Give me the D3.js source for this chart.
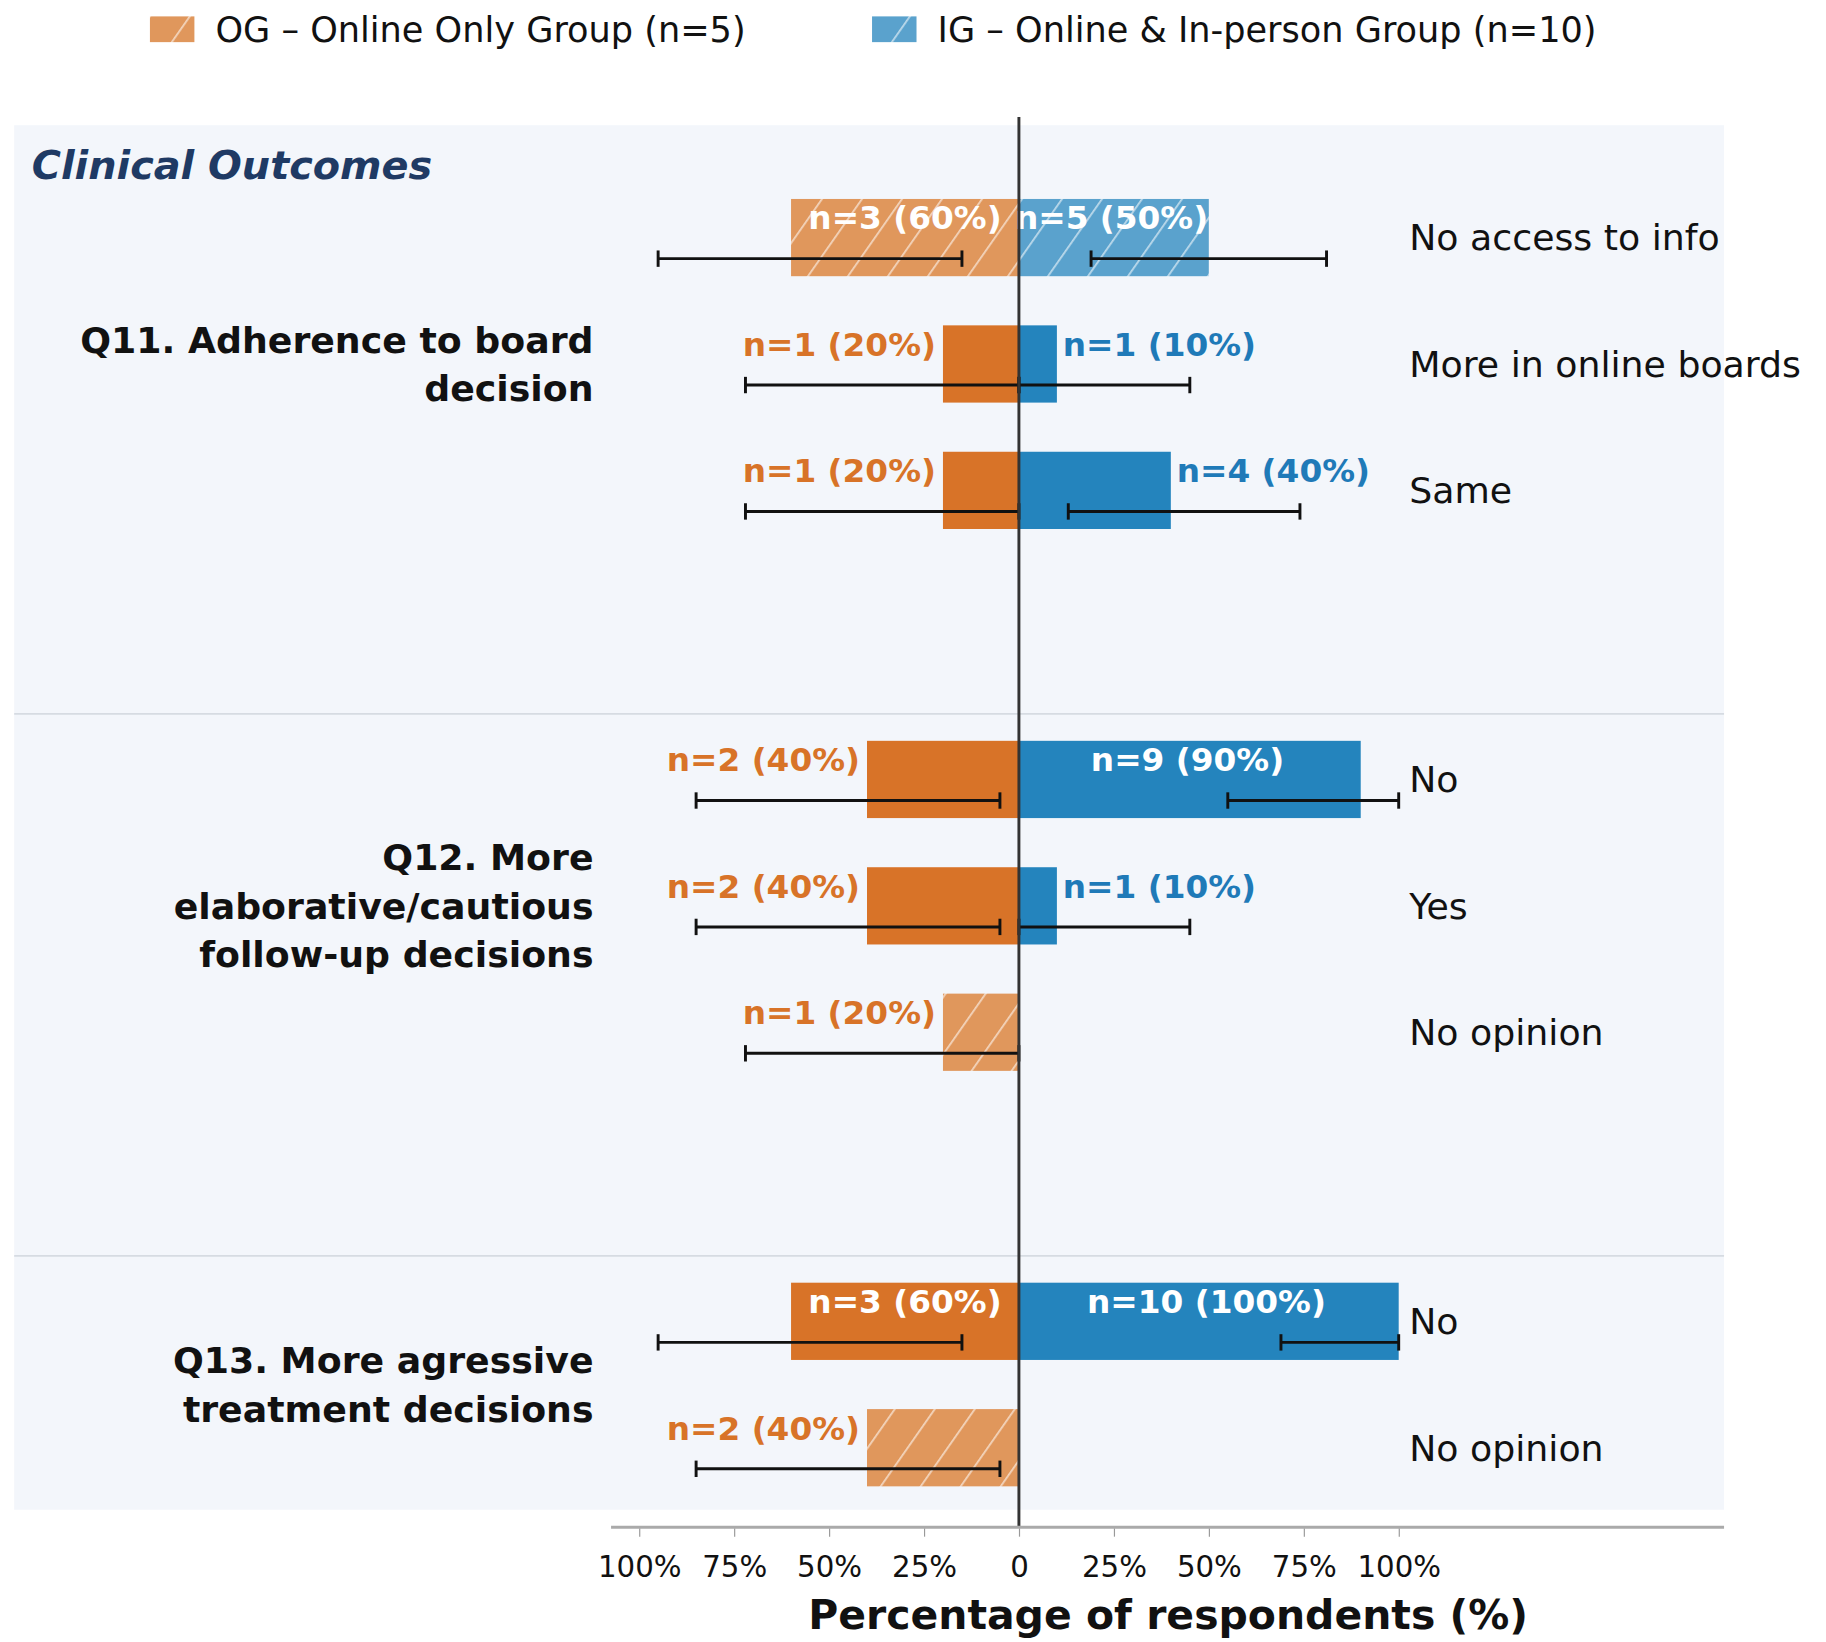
<!DOCTYPE html>
<html><head><meta charset="utf-8">
<script src="https://cdn.jsdelivr.net/npm/d3@7"></script>
<style>body{margin:0;background:#fff}text{font-family:"DejaVu Sans",sans-serif}</style>
</head><body><svg id="chart"></svg>
<script>
// data
var questions = ["Q11. Adherence to board\ndecision", "Q12. More\nelaborative/cautious\nfollow-up decisions", "Q13. More agressive\ntreatment decisions"];
var rowQuestion = [0, 0, 0, 1, 1, 1, 2, 2];
var answers = ["No access to info", "More in online boards", "Same", "No", "Yes", "No opinion", "No", "No opinion"];
var ogN = [3, 1, 1, 2, 2, 1, 3, 2];
var ogPct = [60, 20, 20, 40, 40, 20, 60, 40];
var ogLo = [15, 0, 0, 5, 5, 0, 15, 5];
var ogHi = [95, 72, 72, 85, 85, 72, 95, 85];
var igN = [5, 1, 4, 9, 1, null, 10, null];
var igPct = [50, 10, 40, 90, 10, null, 100, null];
var igLo = [19, 0, 13, 55, 0, null, 69, null];
var igHi = [81, 45, 74, 100, 45, null, 100, null];
var ogHatch = [true, false, false, false, false, true, false, true];
var igHatch = [true, false, false, false, false, false, false, false];
var ticks = [-100, -75, -50, -25, 0, 25, 50, 75, 100];
var rowY = [203, 311, 419, 666, 774, 882, 1129, 1237];

var W = 1560, H = 1403;
var svg = d3.select("#chart").attr("width", 1826).attr("height", 1642).attr("viewBox", "0 0 " + W + " " + H);
var x = d3.scaleLinear().domain([-100, 100]).range([546, 1195]);
var C = {og: "#d87328", ogL: "#e0975c", ig: "#2484bd", igL: "#5aa2cd"};

var defs = svg.append("defs");
[["hOG", C.ogL], ["hIG", C.igL]].forEach(function (p) {
  var pat = defs.append("pattern").attr("id", p[0]).attr("patternUnits", "userSpaceOnUse")
    .attr("width", 28).attr("height", 28).attr("patternTransform", "rotate(35)");
  pat.append("rect").attr("width", 28).attr("height", 28).attr("fill", p[1]);
  pat.append("line").attr("x1", 0).attr("x2", 0).attr("y1", 0).attr("y2", 28)
    .attr("stroke", "#fff").attr("stroke-opacity", 0.6).attr("stroke-width", 3);
});

// panel
svg.append("rect").attr("x", 12).attr("y", 107).attr("width", 1461).attr("height", 1183).attr("fill", "#f3f6fb");
[610, 1073].forEach(function (y) {
  svg.append("line").attr("x1", 12).attr("x2", 1473).attr("y1", y).attr("y2", y).attr("stroke", "#d6dbe2").attr("stroke-width", 1.5);
});
svg.append("text").attr("x", 27).attr("y", 153).attr("font-size", 34).attr("font-weight", "bold")
  .attr("font-style", "italic").attr("fill", "#1f3a64").text("Clinical Outcomes");

// legend
[[128, 184, "hOG", "OG – Online Only Group (n=5)"], [745, 801, "hIG", "IG – Online & In-person Group (n=10)"]].forEach(function (l) {
  svg.append("rect").attr("x", l[0]).attr("y", 14).attr("width", 38).attr("height", 22).attr("fill", "url(#" + l[2] + ")");
  svg.append("text").attr("x", l[1]).attr("y", 36).attr("font-size", 30).attr("fill", "#111").text(l[3]);
});

var bh = 66;
var g = svg.append("g");
rowY.forEach(function (cy, i) {
  // OG bar (left)
  var x0 = x(-ogPct[i]);
  g.append("rect").attr("x", x0).attr("y", cy - 33).attr("width", x(0) - x0).attr("height", bh)
    .attr("fill", ogHatch[i] ? "url(#hOG)" : C.og);
  if (igPct[i] != null) {
    g.append("rect").attr("x", x(0)).attr("y", cy - 33).attr("width", x(igPct[i]) - x(0)).attr("height", bh)
      .attr("fill", igHatch[i] ? "url(#hIG)" : C.ig);
  }
});

// error bars
function errbar(lo, hi, cy) {
  var ey = cy + 18;
  g.append("line").attr("x1", lo).attr("x2", hi).attr("y1", ey).attr("y2", ey).attr("stroke", "#111").attr("stroke-width", 2.5);
  [lo, hi].forEach(function (v) {
    g.append("line").attr("x1", v).attr("x2", v).attr("y1", ey - 7).attr("y2", ey + 7).attr("stroke", "#111").attr("stroke-width", 2.5);
  });
}
rowY.forEach(function (cy, i) {
  errbar(x(-ogHi[i]), x(-ogLo[i]), cy);
  if (igPct[i] != null) errbar(x(igLo[i]), x(igHi[i]), cy);
});

// center line
svg.append("line").attr("x1", x(0)).attr("x2", x(0)).attr("y1", 100).attr("y2", 1305).attr("stroke", "#333").attr("stroke-width", 2.5);

// value labels
rowY.forEach(function (cy, i) {
  var ly = cy - 7;
  var t = "n=" + ogN[i] + " (" + ogPct[i] + "%)";
  if (ogPct[i] >= 50) {
    g.append("text").attr("x", (x(-ogPct[i]) + x(0)) / 2).attr("y", ly).attr("text-anchor", "middle")
      .attr("font-size", 28).attr("font-weight", "bold").attr("fill", "#fff").text(t);
  } else {
    g.append("text").attr("x", x(-ogPct[i]) - 6).attr("y", ly).attr("text-anchor", "end")
      .attr("font-size", 28).attr("font-weight", "bold").attr("fill", C.og).text(t);
  }
  if (igPct[i] != null) {
    var u = "n=" + igN[i] + " (" + igPct[i] + "%)";
    if (igPct[i] >= 50) {
      g.append("text").attr("x", (x(igPct[i]) + x(0)) / 2 - 2).attr("y", ly).attr("text-anchor", "middle")
        .attr("font-size", 28).attr("font-weight", "bold").attr("fill", "#fff").text(u);
    } else {
      g.append("text").attr("x", x(igPct[i]) + 5).attr("y", ly)
        .attr("font-size", 28).attr("font-weight", "bold").attr("fill", "#1f7ab8").text(u);
    }
  }
  svg.append("text").attr("x", 1204).attr("y", cy + 11).attr("font-size", 31).attr("fill", "#111").text(answers[i]);
});

// question labels
questions.forEach(function (q, k) {
  var ys = rowY.filter(function (d, i) { return rowQuestion[i] === k; });
  var mid = (ys[0] + ys[ys.length - 1]) / 2 + (ys.length === 3 ? 0 : 0);
  var lines = q.split("\n");
  var t = svg.append("text").attr("text-anchor", "end").attr("font-size", 31).attr("font-weight", "bold").attr("fill", "#111");
  lines.forEach(function (s, j) {
    t.append("tspan").attr("x", 507).attr("y", mid + 11 + (j - (lines.length - 1) / 2) * 41.5 - (k === 0 ? 0 : 0)).text(s);
  });
});

// x axis
svg.append("line").attr("x1", 522).attr("x2", 1473).attr("y1", 1305).attr("y2", 1305).attr("stroke", "#aaa").attr("stroke-width", 2.5);
var ax = svg.append("g").attr("transform", "translate(0,1306)")
  .call(d3.axisBottom(x).tickValues(ticks).tickSize(7).tickFormat(function (d) { return d === 0 ? "0" : Math.abs(d) + "%"; }));
ax.select(".domain").remove();
ax.selectAll(".tick line").attr("stroke", "#999");
ax.selectAll(".tick text").attr("font-size", 25).attr("fill", "#111").attr("dy", "1.25em").style("font-family", "DejaVu Sans");
svg.append("text").attr("x", 998).attr("y", 1392).attr("text-anchor", "middle").attr("font-size", 35)
  .attr("font-weight", "bold").attr("fill", "#111").text("Percentage of respondents (%)");
</script></body></html>
